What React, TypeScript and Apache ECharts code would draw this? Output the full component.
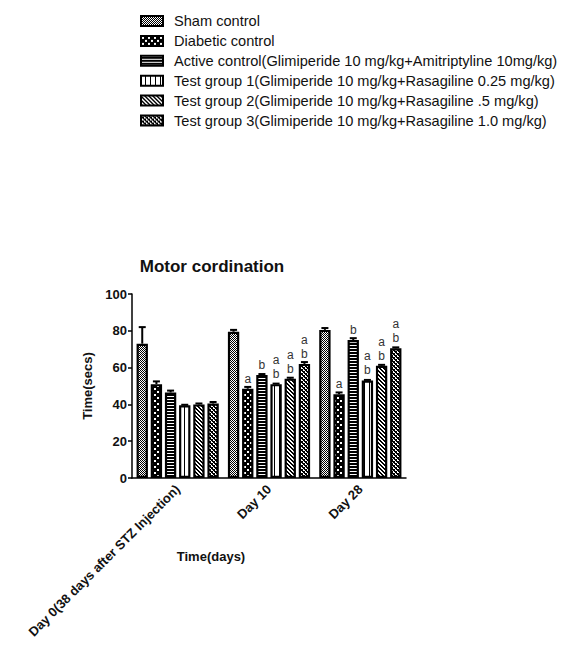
import React, { useEffect, useRef } from 'react';
import * as echarts from 'echarts';

const categories = ['Day 0(38 days after STZ Injection)', 'Day 10', 'Day 28'];
const groupNames = [
  'Sham control',
  'Diabetic control',
  'Active control(Glimiperide 10 mg/kg+Amitriptyline 10mg/kg)',
  'Test group 1(Glimiperide 10 mg/kg+Rasagiline 0.25 mg/kg)',
  'Test group 2(Glimiperide 10 mg/kg+Rasagiline .5 mg/kg)',
  'Test group 3(Glimiperide 10 mg/kg+Rasagiline 1.0 mg/kg)',
];
const shamControl = [73, 79.5, 80.5];
const diabeticControl = [51, 48.5, 45.5];
const activeControl = [46.5, 56, 75];
const testGroup1 = [39.5, 51, 53];
const testGroup2 = [40, 54, 61];
const testGroup3 = [40.5, 62, 70.5];
const shamErr = [9, 1, 1];
const diabeticErr = [1.5, 1, 1];
const activeErr = [1, 0.5, 1];
const test1Err = [0.3, 0.3, 0.3];
const test2Err = [0.5, 0.5, 0.5];
const test3Err = [0.8, 1, 0.5];
const shamSig = ['', '', ''];
const diabeticSig = ['', 'a', 'a'];
const activeSig = ['', 'b', 'b'];
const test1Sig = ['', 'a\nb', 'a\nb'];
const test2Sig = ['', 'a\nb', 'a\nb'];
const test3Sig = ['', 'a\nb', 'a\nb'];
const xAxisTitle = 'Time(days)';
const yAxisTitle = 'Time(secs)';
const chartTitle = 'Motor cordination';

const FONT = '"Liberation Sans", Arial, sans-serif';
const BAR_GAP = 0.25;
const CAT_GAP = 0.1;

function makePattern(w: number, h: number, draw: (ctx: CanvasRenderingContext2D) => void) {
  const c = document.createElement('canvas');
  c.width = w;
  c.height = h;
  const ctx = c.getContext('2d')!;
  draw(ctx);
  return { image: c, repeat: 'repeat' };
}

export default function App() {
  const ref = useRef<HTMLDivElement>(null);
  useEffect(() => {
    if (!ref.current) return;
    const chart = echarts.init(ref.current, undefined, { renderer: 'svg' });

    const patterns = [
      makePattern(2, 2, (c) => {
        c.fillStyle = '#fff'; c.fillRect(0, 0, 2, 2);
        c.fillStyle = '#000'; c.fillRect(0, 0, 1, 1); c.fillRect(1, 1, 1, 1);
      }),
      makePattern(6, 6, (c) => {
        c.fillStyle = '#000'; c.fillRect(0, 0, 6, 6);
        c.fillStyle = '#fff'; c.fillRect(1, 1, 2, 2); c.fillRect(4, 4, 2, 2);
      }),
      makePattern(2, 3, (c) => {
        c.fillStyle = '#000'; c.fillRect(0, 0, 2, 3);
        c.fillStyle = '#fff'; c.fillRect(0, 0, 2, 1);
      }),
      makePattern(5, 2, (c) => {
        c.fillStyle = '#fff'; c.fillRect(0, 0, 5, 2);
        c.fillStyle = '#000'; c.fillRect(4, 0, 1, 2);
      }),
      makePattern(4, 4, (c) => {
        c.fillStyle = '#fff'; c.fillRect(0, 0, 4, 4);
        c.fillStyle = '#000';
        for (let i = 0; i < 4; i++) { c.fillRect(i, i, 1, 1); c.fillRect(i, (i + 1) % 4, 1, 1); }
      }),
      makePattern(4, 4, (c) => {
        c.fillStyle = '#fff'; c.fillRect(0, 0, 4, 4);
        c.fillStyle = '#000';
        for (let i = 0; i < 4; i++) { c.fillRect(i, i, 1, 1); c.fillRect(i, (i + 1) % 4, 1, 1); c.fillRect(3 - i, i, 1, 1); }
      }),
    ];

    const values = [shamControl, diabeticControl, activeControl, testGroup1, testGroup2, testGroup3];
    const errs = [shamErr, diabeticErr, activeErr, test1Err, test2Err, test3Err];
    const sigs = [shamSig, diabeticSig, activeSig, test1Sig, test2Sig, test3Sig];

    const barSeries = groupNames.map((name, i) => ({
      name,
      type: 'bar',
      data: values[i],
      barGap: `${BAR_GAP * 100}%`,
      barCategoryGap: `${CAT_GAP * 100}%`,
      itemStyle: { color: patterns[i], borderColor: '#000', borderWidth: 2.2 },
      label: {
        show: true,
        position: 'top',
        distance: 3,
        formatter: (p: any) => sigs[i][p.dataIndex],
        fontFamily: FONT,
        fontSize: 12,
        lineHeight: 14,
        color: '#333',
      },
      z: 2,
    }));

    const errData: number[][] = [];
    values.forEach((arr, s) => arr.forEach((v, c) => errData.push([c, s, v, errs[s][c]])));

    const errSeries = {
      name: 'err',
      type: 'custom',
      data: errData,
      encode: { x: 0, y: 2 },
      z: 3,
      renderItem: (params: any, api: any) => {
        const cat = api.value(0);
        const s = api.value(1);
        const mean = api.value(2);
        const err = api.value(3);
        const band = api.size([1, 0])[0];
        const n = 6;
        const usable = band * (1 - CAT_GAP);
        const bw = usable / (n + (n - 1) * BAR_GAP);
        const x = api.coord([cat, 0])[0] - usable / 2 + s * bw * (1 + BAR_GAP) + bw / 2;
        const y0 = api.coord([cat, mean])[1];
        const y1 = api.coord([cat, mean + err])[1];
        return {
          type: 'group',
          children: [
            { type: 'line', shape: { x1: x, y1: y0, x2: x, y2: y1 }, style: { stroke: '#000', lineWidth: 2 } },
            { type: 'line', shape: { x1: x - 3.5, y1: y1, x2: x + 3.5, y2: y1 }, style: { stroke: '#000', lineWidth: 2 } },
          ],
        };
      },
    };

    chart.setOption({
      animation: false,
      backgroundColor: '#fff',
      title: {
        text: chartTitle,
        left: 207,
        top: 253,
        textAlign: 'center',
        textStyle: { fontFamily: FONT, fontSize: 17, fontWeight: 'bold', color: '#111' },
      },
      legend: {
        data: groupNames,
        orient: 'vertical',
        left: 135,
        top: 8.5,
        itemWidth: 22,
        itemHeight: 10,
        itemGap: 4.9,
        icon: 'rect',
        selectedMode: false,
        textStyle: { fontFamily: FONT, fontSize: 14.6, color: '#111', padding: [0, 0, 0, 6] },
      },
      graphic: [
        {
          type: 'text',
          x: 211,
          y: 556,
          style: {
            text: xAxisTitle,
            fontFamily: FONT,
            fontSize: 13,
            fontWeight: 'bold',
            fill: '#111',
            textAlign: 'center',
            textVerticalAlign: 'middle',
          },
        },
      ],
      grid: { left: 132, right: 157, top: 294, bottom: 172, containLabel: false },
      xAxis: {
        type: 'category',
        data: categories,
        axisLine: { lineStyle: { color: '#000', width: 1.5 } },
        axisTick: { alignWithLabel: true, length: 4, lineStyle: { color: '#000', width: 1.5 } },
        axisLabel: {
          interval: 0,
          rotate: 45,
          margin: 9,
          fontFamily: FONT,
          fontSize: 13,
          fontWeight: 'bold',
          color: '#111',
        },
      },
      yAxis: {
        type: 'value',
        min: 0,
        max: 100,
        interval: 20,
        name: yAxisTitle,
        nameLocation: 'middle',
        nameGap: 38,
        nameRotate: 90,
        nameTextStyle: { fontFamily: FONT, fontSize: 13, fontWeight: 'bold', color: '#111' },
        splitLine: { show: false },
        axisLine: { show: true, lineStyle: { color: '#000', width: 1.5 } },
        axisTick: { show: true, length: 4, lineStyle: { color: '#000', width: 1.5 } },
        axisLabel: { margin: 5, fontFamily: FONT, fontSize: 13, fontWeight: 'bold', color: '#111' },
      },
      series: [...barSeries, errSeries],
    });
    return () => chart.dispose();
  }, []);
  return <div ref={ref} style={{ position: 'fixed', left: 0, top: 0, width: 563, height: 650 }} />;
}
